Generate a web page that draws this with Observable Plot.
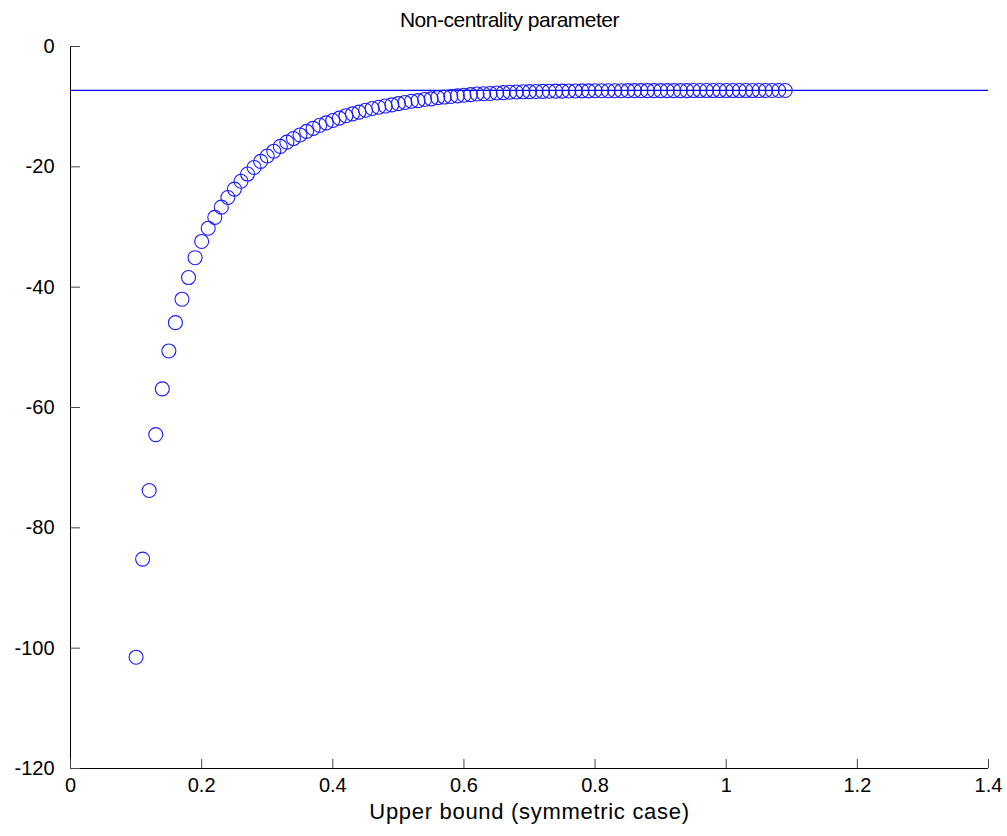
<!DOCTYPE html>
<html>
<head>
<meta charset="utf-8">
<script src="https://cdn.jsdelivr.net/npm/d3@7"></script>
<script src="https://cdn.jsdelivr.net/npm/@observablehq/plot@0.6"></script>
<style>
  html, body { margin: 0; padding: 0; background: #fff; }
  #title { width: 1007px; height: 30px; padding-top: 6px; text-align: center; padding-left: 6px; box-sizing: content-box;
           font-family: "Liberation Sans", Arial, sans-serif; font-size: 21px; line-height: 28px; letter-spacing: -0.5px; color: #000; }
  #chart svg { display: block; }
</style>
</head>
<body>
<div id="title">Non-centrality parameter</div>
<div id="chart"></div>
<script>
const xValues = [0.10,0.11,0.12,0.13,0.14,0.15,0.16,0.17,0.18,0.19,
  0.20,0.21,0.22,0.23,0.24,0.25,0.26,0.27,0.28,0.29,
  0.30,0.31,0.32,0.33,0.34,0.35,0.36,0.37,0.38,0.39,
  0.40,0.41,0.42,0.43,0.44,0.45,0.46,0.47,0.48,0.49,
  0.50,0.51,0.52,0.53,0.54,0.55,0.56,0.57,0.58,0.59,
  0.60,0.61,0.62,0.63,0.64,0.65,0.66,0.67,0.68,0.69,
  0.70,0.71,0.72,0.73,0.74,0.75,0.76,0.77,0.78,0.79,
  0.80,0.81,0.82,0.83,0.84,0.85,0.86,0.87,0.88,0.89,
  0.90,0.91,0.92,0.93,0.94,0.95,0.96,0.97,0.98,0.99,
  1.00,1.01,1.02,1.03,1.04,1.05,1.06,1.07,1.08,1.09];
const yValues = [-101.5,-85.2,-73.8,-64.5,-56.9,-50.6,-45.9,-42.0,-38.4,-35.1,
  -32.4,-30.2,-28.4,-26.7,-25.1,-23.7,-22.4,-21.2,-20.1,-19.1,
  -18.2,-17.4,-16.6,-15.9,-15.3,-14.7,-14.1,-13.6,-13.1,-12.7,
  -12.3,-11.9,-11.5,-11.2,-10.9,-10.6,-10.3,-10.1,-9.9,-9.7,
  -9.5,-9.3,-9.1,-9.0,-8.8,-8.7,-8.5,-8.4,-8.3,-8.2,
  -8.1,-8.0,-7.9,-7.85,-7.8,-7.72,-7.66,-7.6,-7.56,-7.53,
  -7.5,-7.48,-7.46,-7.44,-7.42,-7.41,-7.4,-7.39,-7.38,-7.37,
  -7.36,-7.36,-7.35,-7.35,-7.35,-7.34,-7.34,-7.34,-7.34,-7.33,
  -7.33,-7.33,-7.33,-7.33,-7.33,-7.32,-7.32,-7.32,-7.32,-7.32,
  -7.32,-7.32,-7.32,-7.32,-7.32,-7.32,-7.31,-7.31,-7.31,-7.31];
const asymptote = [-7.3];
const xTicks = [0, 0.2, 0.4, 0.6, 0.8, 1, 1.2, 1.4];
const yTicks = [0, -20, -40, -60, -80, -100, -120];
const xLabel = "Upper bound (symmetric case)";

const points = xValues.map((x, i) => ({x, y: yValues[i]}));
const font = "'Liberation Sans', Arial, sans-serif";

const chart = Plot.plot({
  width: 1007,
  height: 800,
  marginTop: 10,
  marginBottom: 68,
  marginLeft: 70,
  marginRight: 19,
  style: { fontFamily: font, fontSize: "20px", color: "#000", background: "#fff" },
  x: { domain: [0, 1.4] },
  y: { domain: [-120, 0] },
  marks: [
    Plot.ruleY(asymptote, { y: d => d, stroke: "#0000ff", strokeWidth: 1.2 }),
    Plot.dot(points, { x: "x", y: "y", r: 7, stroke: "#1a1aff", strokeWidth: 1.1, fill: "none" }),
    Plot.ruleX([xTicks[0]], { x: d => d, stroke: "#000" }),
    Plot.ruleY([yTicks[yTicks.length - 1]], { y: d => d, stroke: "#000" }),
    Plot.ruleX(xTicks, { x: d => d, stroke: "#444", insetTop: 713 }),
    Plot.ruleY(yTicks, { y: d => d, stroke: "#444", insetRight: 908 }),
    Plot.axisX({ ticks: xTicks, tickSize: 0, tickPadding: 9, tickFormat: d => String(d), label: null, fontSize: 20 }),
    Plot.axisY({ ticks: yTicks, tickSize: 0, tickPadding: 16, tickFormat: d => String(d), label: null, fontSize: 20 }),
    Plot.text([xLabel], { text: d => d, frameAnchor: "bottom", dy: 50, fontSize: 22, fill: "#000", className: "xlabel" })
  ]
});
d3.select(chart).selectAll("g[aria-label='text'] text").attr("letter-spacing", "0.7px");
document.getElementById("chart").appendChild(chart);
</script>
</body>
</html>
